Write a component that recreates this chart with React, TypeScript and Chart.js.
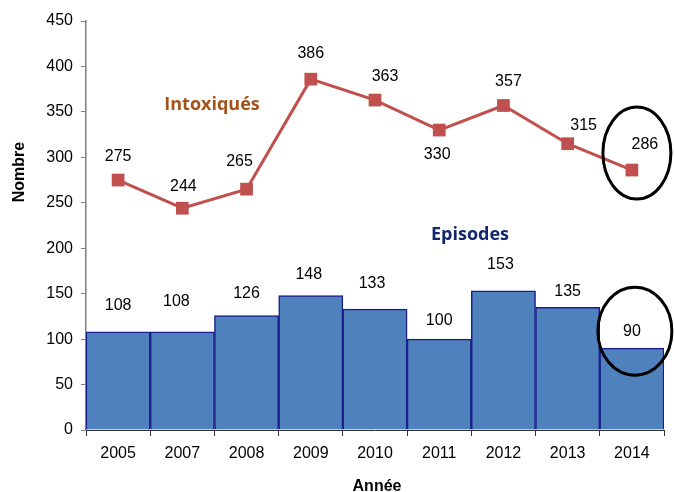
import React, { useEffect, useRef } from "react";
import { Chart, registerables } from "chart.js";

Chart.register(...registerables);

const years = ["2005", "2007", "2008", "2009", "2010", "2011", "2012", "2013", "2014"];
const intoxiques = [275, 244, 265, 386, 363, 330, 357, 315, 286];
const episodes = [108, 108, 126, 148, 133, 100, 153, 135, 90];
const yTicksMax = 450;
const yTickStep = 50;

// label offsets (px) relative to each mark
const lineLabelDx = [0, 1, -7, 0, 10, -2, 5, 16, 13];
const lineLabelDy = [-23, -22, -28, -26, -23, 25, -24, -18, -25];
const barLabelDx = [0, -6, 0, -2, -3, 0, -3, 0, 0];
const barLabelDy = [-26, -30, -22, -21, -26, -19, -26, -16, -17];

const annotPlugin = {
  id: "annot",
  afterDatasetsDraw(chart: any) {
    const ctx = chart.ctx;
    const lineMeta = chart.getDatasetMeta(1);
    const barMeta = chart.getDatasetMeta(0);
    ctx.save();
    ctx.fillStyle = "#000";
    ctx.font = "16px 'Liberation Sans', Arial, sans-serif";
    ctx.textAlign = "center";
    ctx.textBaseline = "middle";
    lineMeta.data.forEach((pt: any, i: number) => {
      ctx.fillText(String(intoxiques[i]), pt.x + lineLabelDx[i], pt.y + lineLabelDy[i]);
    });
    barMeta.data.forEach((b: any, i: number) => {
      ctx.fillText(String(episodes[i]), b.x + barLabelDx[i], b.y + barLabelDy[i]);
    });

    // ellipses around last values
    const lp = lineMeta.data[lineMeta.data.length - 1];
    const bp = barMeta.data[barMeta.data.length - 1];
    ctx.strokeStyle = "#000";
    ctx.lineWidth = 3;
    ctx.beginPath();
    ctx.ellipse(lp.x + 5, lp.y - 17, 34, 46, 0, 0, Math.PI * 2);
    ctx.stroke();
    ctx.beginPath();
    ctx.ellipse(bp.x + 3, bp.y - 17, 37, 44, 0, 0, Math.PI * 2);
    ctx.stroke();

    // series annotations
    ctx.font = "bold 18px 'Open Sans', sans-serif";
    ctx.fillStyle = "#A3531A";
    ctx.fillText("Intoxiqués", 212, 105);
    ctx.fillStyle = "#13296B";
    ctx.fillText("Episodes", 470, 235);

    // axis titles
    ctx.fillStyle = "#000";
    ctx.font = "bold 16px 'Liberation Sans', Arial, sans-serif";
    ctx.fillText("Année", 377, 487);
    ctx.translate(20, 172);
    ctx.rotate(-Math.PI / 2);
    ctx.fillText("Nombre", 0, 0);
    ctx.restore();
  },
};

export default function App() {
  const ref = useRef<HTMLCanvasElement>(null);
  useEffect(() => {
    if (!ref.current) return;
    const chart = new Chart(ref.current, {
      type: "bar",
      data: {
        labels: years,
        datasets: [
          {
            type: "bar",
            label: "Episodes",
            data: episodes,
            backgroundColor: "#4F81BD",
            borderColor: "#1A1F8C",
            borderWidth: 1.5,
            categoryPercentage: 1,
            barPercentage: 1,
            order: 1,
          },
          {
            type: "line",
            label: "Intoxiqués",
            data: intoxiques,
            borderColor: "#C0504D",
            backgroundColor: "#C0504D",
            borderWidth: 3,
            pointStyle: "rect",
            pointRadius: 9,
            pointBorderWidth: 0,
            tension: 0,
            order: 0,
          },
        ],
      } as any,
      options: {
        responsive: false,
        animation: false,
        layout: { padding: { top: 21, right: 10, left: 0, bottom: 0 } },
        plugins: { legend: { display: false }, tooltip: { enabled: false } },
        scales: {
          x: {
            offset: true,
            grid: {
              offset: true,
              drawOnChartArea: false,
              drawTicks: true,
              tickLength: 6,
              color: "#333",
            },
            border: { color: "#333", width: 1 },
            ticks: {
              color: "#000",
              padding: 8,
              font: { family: "'Liberation Sans', Arial, sans-serif", size: 16 },
            },
            afterFit: (s: any) => {
              s.height = 62;
            },
          },
          y: {
            min: 0,
            max: yTicksMax,
            ticks: {
              stepSize: yTickStep,
              color: "#000",
              padding: 8,
              font: { family: "'Liberation Sans', Arial, sans-serif", size: 16 },
            },
            grid: {
              drawOnChartArea: false,
              drawTicks: true,
              tickLength: 5,
              color: "#808080",
            },
            border: { color: "#808080", width: 1.5 },
            afterFit: (s: any) => {
              s.width = 86;
            },
          },
        },
      } as any,
      plugins: [annotPlugin],
    });
    return () => chart.destroy();
  }, []);
  return (
    <div style={{ position: "absolute", left: 0, top: 0, width: 674, height: 492, background: "#fff" }}>
      <canvas ref={ref} width={674} height={492} />
    </div>
  );
}
